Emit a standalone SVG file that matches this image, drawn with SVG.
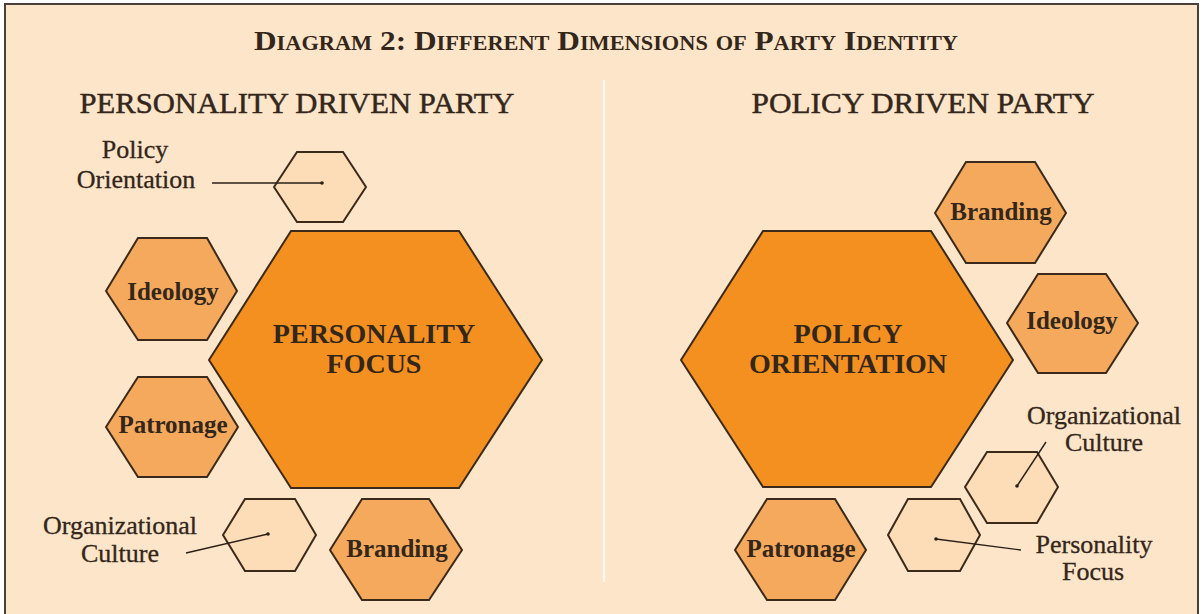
<svg xmlns="http://www.w3.org/2000/svg" width="1203" height="614" viewBox="0 0 1203 614">
<defs>
<style>
.hex{stroke:#3b2a1a;stroke-width:2;stroke-linejoin:miter}
.big{fill:#F3901F}
.mid{fill:#F5A95C}
.light{fill:#FCDDB8}
.t{font-family:"Liberation Serif",serif;fill:#33261a;text-anchor:middle}
.lab{font-size:25px;font-weight:bold}
.blab{font-size:28px;font-weight:bold}
.ann{font-size:26px;stroke:#33261a;stroke-width:0.3}
.hdr{font-size:29px;stroke:#33261a;stroke-width:0.45}
.conn{stroke:#2a2018;stroke-width:1.4;fill:none}
</style>
<marker id="dot" viewBox="0 0 4 4" refX="2" refY="2" markerWidth="4" markerHeight="4" markerUnits="userSpaceOnUse">
<circle cx="2" cy="2" r="1.8" fill="#2a2018"/>
</marker>
</defs>
<rect x="0" y="0" width="1203" height="614" fill="#ffffff"/>
<rect x="5" y="4" width="1193" height="620" fill="#FDE5C9" stroke="#4a4038" stroke-width="2"/>
<line x1="604" y1="80" x2="604" y2="582" stroke="#FFF8EC" stroke-width="2.5"/>

<text class="t" x="606" y="50" font-size="28" font-weight="bold" font-variant="small-caps" textLength="704" lengthAdjust="spacingAndGlyphs">Diagram 2: Different Dimensions of Party Identity</text>
<text class="t hdr" x="297" y="113" textLength="435" lengthAdjust="spacingAndGlyphs">PERSONALITY DRIVEN PARTY</text>
<text class="t hdr" x="923" y="113" textLength="343" lengthAdjust="spacingAndGlyphs">POLICY DRIVEN PARTY</text>

<g id="left-policy-orientation">
<polygon class="hex light" points="274,187 297,152 343,152 366,187 343,222 297,222"/>
<text class="t ann" x="135" y="158">Policy</text>
<text class="t ann" x="136" y="188">Orientation</text>
</g>
<g id="left-personality-focus">
<polygon class="hex big" points="209,360 291,231 459,231 542,360 459,488 291,488"/>
<text class="t blab" x="374" y="343">PERSONALITY</text>
<text class="t blab" x="374" y="373">FOCUS</text>
</g>
<g id="left-ideology">
<polygon class="hex mid" points="106,291 138,238 207,238 237,291 207,340 138,340"/>
<text class="t lab" x="173" y="300">Ideology</text>
</g>
<g id="left-patronage">
<polygon class="hex mid" points="106,427 138,377 207,377 238,427 207,477 138,477"/>
<text class="t lab" x="173" y="433">Patronage</text>
</g>
<g id="left-organizational-culture">
<polygon class="hex light" points="223,535 245,499 295,499 316,535 295,571 245,571"/>
<text class="t ann" x="120" y="534">Organizational</text>
<text class="t ann" x="120" y="562">Culture</text>
</g>
<g id="left-branding">
<polygon class="hex mid" points="330,550 362,499 429,499 462,550 429,600 362,600"/>
<text class="t lab" x="397" y="557">Branding</text>
</g>

<g id="right-policy-orientation">
<polygon class="hex big" points="681,360 763,231 931,231 1013,360 931,487 763,487"/>
<text class="t blab" x="848" y="343">POLICY</text>
<text class="t blab" x="848" y="373">ORIENTATION</text>
</g>
<g id="right-branding">
<polygon class="hex mid" points="935,213 966,162 1035,162 1066,213 1035,263 966,263"/>
<text class="t lab" x="1001" y="220">Branding</text>
</g>
<g id="right-ideology">
<polygon class="hex mid" points="1007,323 1038,274 1106,274 1138,323 1106,373 1038,373"/>
<text class="t lab" x="1072" y="329">Ideology</text>
</g>
<g id="right-organizational-culture">
<polygon class="hex light" points="965,487 987,452 1037,452 1058,487 1037,523 987,523"/>
<text class="t ann" x="1104" y="424">Organizational</text>
<text class="t ann" x="1104" y="451">Culture</text>
</g>
<g id="right-personality-focus">
<polygon class="hex light" points="888,535 908,499 960,499 980,535 960,571 908,571"/>
<text class="t ann" x="1094" y="553">Personality</text>
<text class="t ann" x="1093" y="580">Focus</text>
</g>
<g id="right-patronage">
<polygon class="hex mid" points="735,550 767,499 835,499 866,550 835,600 767,600"/>
<text class="t lab" x="801" y="557">Patronage</text>
</g>

<g id="connectors">
<line class="conn" x1="212" y1="183" x2="322" y2="183" marker-end="url(#dot)"/>
<line class="conn" x1="186" y1="553" x2="268" y2="534" marker-end="url(#dot)"/>
<line class="conn" x1="1046" y1="442" x2="1017" y2="486" marker-end="url(#dot)"/>
<line class="conn" x1="1021" y1="550" x2="936" y2="539" marker-end="url(#dot)"/>
</g>
</svg>
